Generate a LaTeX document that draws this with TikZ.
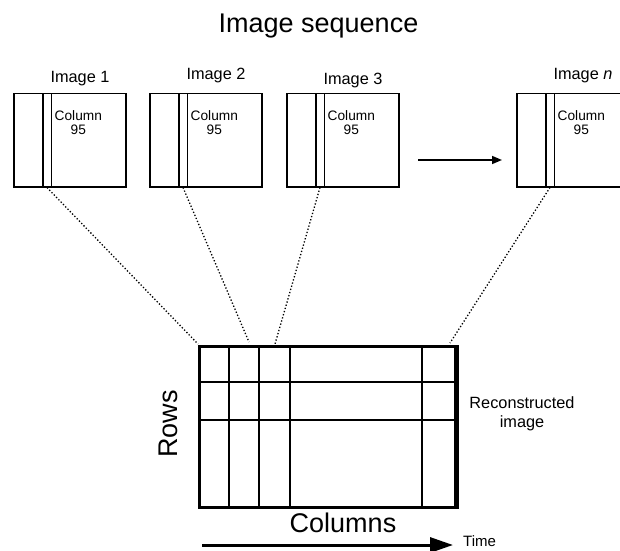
\documentclass[tikz,border=0pt]{standalone}
\usepackage{fontspec}
\setmainfont{Liberation Sans}
\usetikzlibrary{arrows.meta}
\newcommand{\fsz}[1]{\fontsize{#1bp}{1.1\dimexpr#1bp\relax}\selectfont}
\begin{document}
\begin{tikzpicture}[x=1bp,y=-1bp,
  imgbox/.style={draw,line width=1.5bp,minimum width=112bp,minimum height=93bp,anchor=north west,inner sep=0pt},
  stripbox/.style={draw,line width=1.5bp,minimum width=8.5bp,minimum height=93bp,anchor=north west,inner sep=0pt},
  imglabel/.style={anchor=base,inner sep=0pt,font=\fsz{16.3}},
  collabel/.style={anchor=north west,inner sep=0pt,align=center,font=\fontsize{13.7bp}{14.5bp}\selectfont},
  link/.style={dotted,line width=1.3bp,black},
  gridline/.style={line width=1.6bp},
  bigtext/.style={inner sep=0pt,font=\fsz{27}}
]
\useasboundingbox (0,0) rectangle (620,551);

% title
\node[bigtext,anchor=base] (title) at (318.5,33) {Image sequence};

% image boxes
\foreach \n/\x/\lb/\txt in {1/13/82.5/{Image 1},2/149/80/{Image 2},3/286/85/{Image 3},4/516/80/{Image \textit{n}}}{
  \node[imgbox] (img\n) at (\x,93) {};
  \node[stripbox] (strip\n) at (\x+29,93) {};
  \node[imglabel] (lab\n) at (\x+67,\lb) {\txt};
  \node[collabel] (col\n) at (\x+41.5,110) {Column\\95};
}

% arrow between images
\coordinate (arrS) at (418,160);
\coordinate (arrE) at (502,160);
\draw[line width=1.5bp,-{Triangle[length=10bp,width=8bp]}] (arrS) -- (arrE);

% reconstructed grid
\node[draw,line width=3.2bp,minimum width=256bp,minimum height=161bp,anchor=north west,inner sep=0pt] (grid) at (198,345) {};
\draw[line width=3bp] (grid.north east) -- (grid.south east);
\draw[gridline] (229,345) -- (229,506);
\draw[line width=2.3bp] (259,345) -- (259,506);
\draw[gridline] (290,345) -- (290,506);
\draw[gridline] (422,345) -- (422,506);
\draw[gridline] (198,382) -- (454,382);
\draw[gridline] (198,420) -- (454,420);

% dotted links
\coordinate (e1) at (198,344);
\coordinate (e2) at (249,342);
\coordinate (e3) at (275,344);
\coordinate (e4) at (450,343);
\foreach \n in {1,2,3,4}{
  \draw[link] (strip\n.south) -- (e\n);
}

% labels
\node[bigtext,rotate=90] (rows) at (168,424) {Rows};
\node[bigtext,anchor=base] (cols) at (343,532) {Columns};
\node[anchor=base,inner sep=0pt,align=center,font=\fontsize{16.3bp}{18.5bp}\selectfont] (recon) at (522,427) {Reconstructed\\image};

% time arrow
\coordinate (tS) at (202,545);
\coordinate (tE) at (453,545);
\draw[line width=3bp,-{Triangle[length=23bp,width=15bp]}] (tS) -- (tE);
\node[anchor=base west,inner sep=0pt,font=\fsz{15}] (time) at (463,546) {Time};
\end{tikzpicture}
\end{document}
